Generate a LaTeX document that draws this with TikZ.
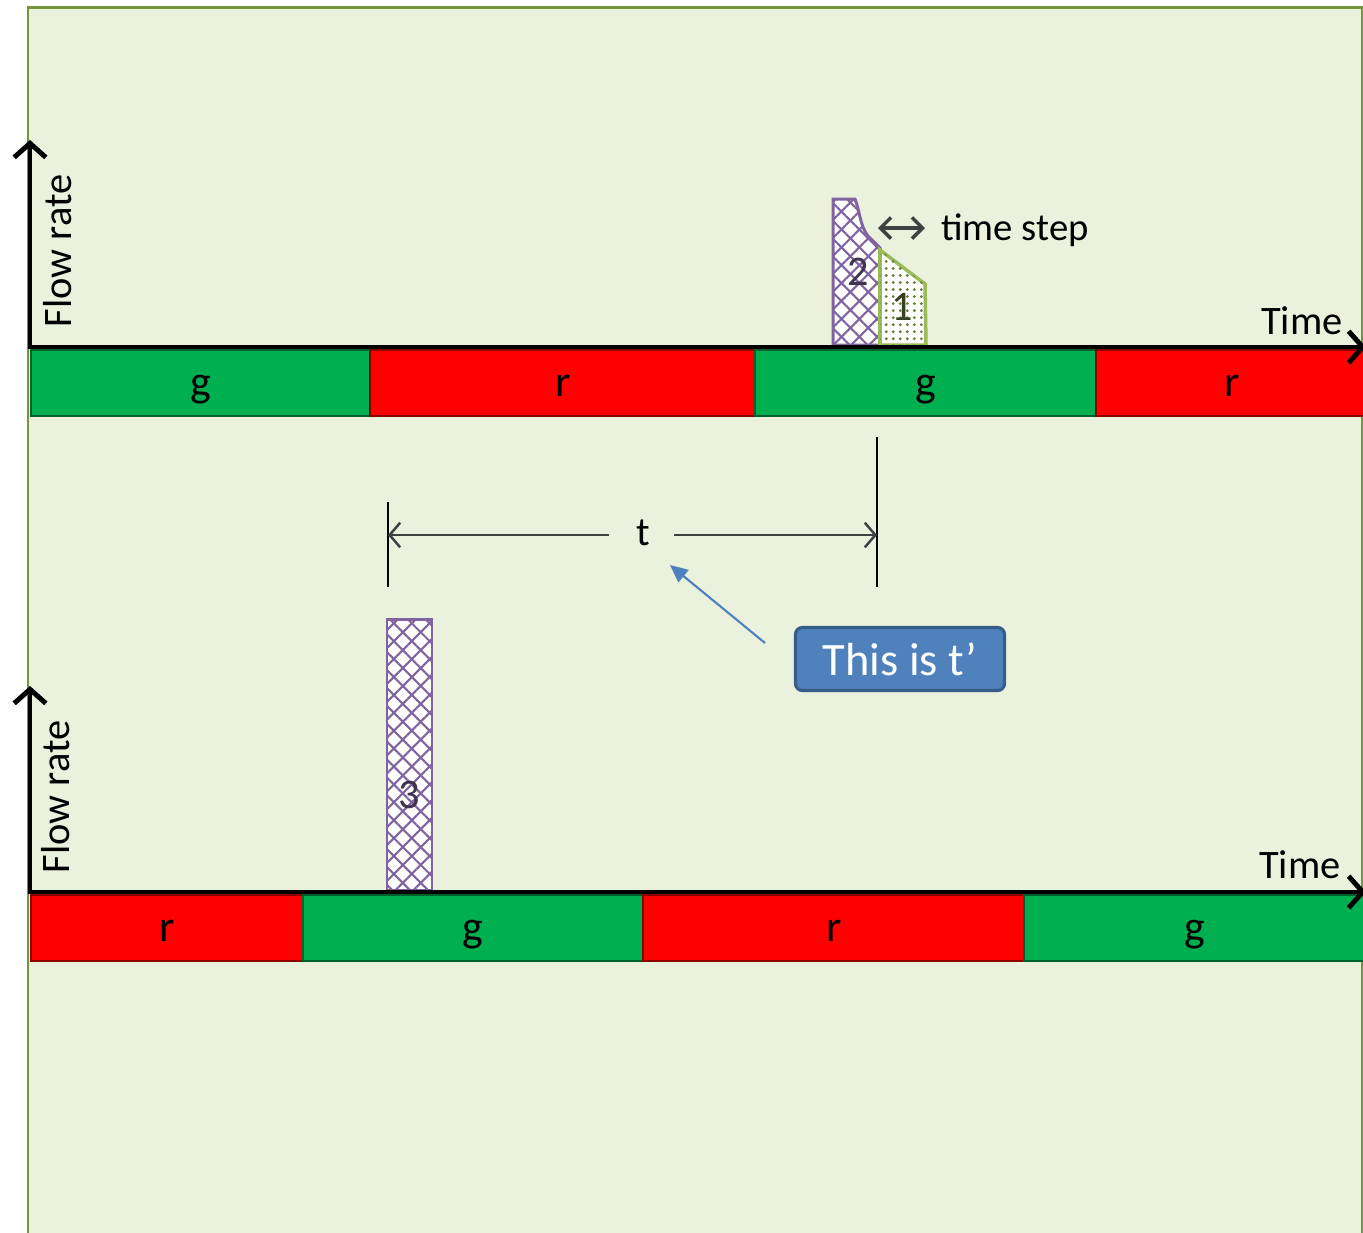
\documentclass[tikz,border=0pt]{standalone}
\usepackage{fontspec}
\setmainfont{Carlito}
\usetikzlibrary{arrows.meta,patterns.meta}
\definecolor{bgcol}{RGB}{234,241,221}
\definecolor{framecol}{RGB}{119,147,60}
\definecolor{gcol}{RGB}{0,176,80}
\definecolor{rcol}{RGB}{255,0,0}
\definecolor{purp}{RGB}{128,100,162}
\definecolor{olivegreen}{RGB}{155,187,89}
\definecolor{dotcol}{RGB}{100,130,50}
\definecolor{boxblue}{RGB}{79,129,189}
\definecolor{boxedge}{RGB}{56,93,138}
\definecolor{dimgray}{RGB}{64,64,64}

\tikzset{
    bar/.style={draw=#1!55!black, fill=#1, line width=0.6pt, minimum height=0.66cm,
        inner sep=0pt, anchor=north west, text height=7.4pt, text depth=0pt,
        font=\fontsize{12.5}{14}\selectfont},
    axis/.style={line width=1.4pt, -{Straight Barb[length=4pt,width=9pt]}},
    axislabel/.style={font=\fontsize{11.5}{13}\selectfont},
    hatch/.style={fill=white, line width=0.85pt, draw=purp,
        postaction={pattern={Lines[angle=45,distance=3.6pt,line width=0.6pt]}, pattern color=purp},
        postaction={pattern={Lines[angle=-45,distance=3.6pt,line width=0.6pt]}, pattern color=purp}},
    dotted area/.style={fill=white, line width=1pt, draw=olivegreen,
        postaction={pattern={Dots[distance=2pt,radius=0.45pt]}, pattern color=dotcol}},
    num/.style={font=\fontsize{12}{14}\selectfont},
    dim/.style={draw=dimgray, line width=0.7pt},
    callout/.style={draw=boxedge, fill=boxblue, line width=0.9pt, rounded corners=2pt,
        minimum width=2.09cm, minimum height=0.63cm, text=white,
        font=\fontsize{13.2}{15}\selectfont},
}

\begin{document}
\begin{tikzpicture}[x=0.01cm, y=-0.01cm]
    \useasboundingbox (0,0) rectangle (1363,1232);
    \fill[white] (0,0) rectangle (1363,1232);
    \draw[framecol, fill=bgcol, line width=0.85pt] (28,7) rectangle (1362,1260);

    % top signal plan
    \node[bar=gcol, minimum width=3.39cm] (g1) at (30,349) {g};
    \node[bar=rcol, minimum width=3.85cm] (r1) at (369,349) {r};
    \node[bar=gcol, minimum width=3.41cm] (g2) at (754,349) {g};
    \node[bar=rcol, minimum width=2.72cm] (r2) at (1095,349) {r};

    % flow released in the top green
    \path[hatch] (833,345) -- (833,199) -- (855,199)
        .. controls (860,212) and (860,226) .. (868,236) -- (880,248) -- (880,345) -- cycle;
    \path[dotted area] (880,345) -- (880,250) -- (925,284) -- (926,345) -- cycle;
    \node[num, text=purp!50!black] (q2) at (858,272) {2};
    \node[num, text=olivegreen!35!black] (q1) at (902,307) {1};

    \coordinate (s1) at (878,228);
    \coordinate (s2) at (925,228);
    \draw[dim, line width=1pt, {Straight Barb[length=3pt,width=6pt]}-{Straight Barb[length=3pt,width=6pt]}] (s1) -- (s2);
    \node[axislabel, anchor=west, font=\fontsize{11}{13}\selectfont] (step) at (929,230) {time step};

    \coordinate (o1) at (28,347);
    \coordinate (y1) at (30,140);
    \coordinate (x1) at (1366,347);
    \draw[axis] (o1) -- (x1);
    \draw[axis] (30,349) -- (y1);
    \node[axislabel, rotate=90] (flow1) at (58,251) {Flow rate};
    \node[axislabel] (time1) at (1302,321) {Time};

    % time shift between the two plans
    \coordinate (tl) at (388,535);
    \coordinate (tr) at (877,535);
    \draw[black, line width=0.6pt] (388,502) -- (388,587);
    \draw[black, line width=0.6pt] (877,437) -- (877,587);
    \node[axislabel, inner sep=6.5pt] (t) at (643,533) {t};
    \draw[dim, -{Straight Barb[length=3pt,width=7pt]}] (t.west) ++(-4,2) -- (tl);
    \draw[dim, -{Straight Barb[length=3pt,width=7pt]}] (t.east) ++(1,2) -- (tr);

    \node[callout] (note) at (900,659) {This is t’};
    \coordinate (notetail) at (765,643);
    \coordinate (notetip) at (670,565);
    \draw[boxblue, line width=0.6pt, -{Triangle[length=5pt,width=4.5pt]}] (notetail) -- (notetip);

    % bottom signal plan
    \node[bar=rcol, minimum width=2.72cm] (r3) at (30,894) {r};
    \node[bar=gcol, minimum width=3.40cm] (g3) at (302,894) {g};
    \node[bar=rcol, minimum width=3.81cm] (r4) at (642,894) {r};
    \node[bar=gcol, minimum width=3.42cm] (g4) at (1023,894) {g};

    \path[hatch] (387,890) rectangle (432,619);
    \node[num, text=purp!50!black] (q3) at (409,795) {3};

    \coordinate (o2) at (28,892);
    \coordinate (y2) at (30,686);
    \coordinate (x2) at (1366,892);
    \draw[axis] (o2) -- (x2);
    \draw[axis] (30,894) -- (y2);
    \node[axislabel, rotate=90] (flow2) at (56,797) {Flow rate};
    \node[axislabel] (time2) at (1300,865) {Time};
\end{tikzpicture}
\end{document}
